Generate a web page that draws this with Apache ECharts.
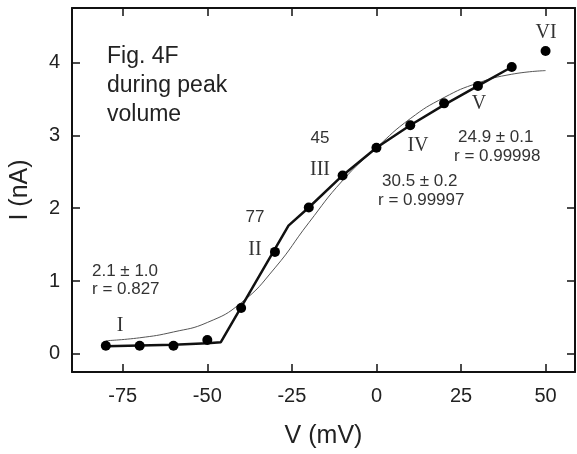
<!DOCTYPE html>
<html>
<head>
<meta charset="utf-8">
<script src="https://cdn.jsdelivr.net/npm/echarts@6/dist/echarts.min.js"></script>
<style>
  html, body { margin: 0; padding: 0; background: #fff; }
  #main { width: 577px; height: 454px; }
</style>
</head>
<body>
<div id="main"></div>
<script>
// 实测点 (V, I)
var dotV = [-80, -70, -60, -50, -40, -30, -20, -10, 0, 10, 20, 30, 40, 50];
var dotI = [0.11, 0.11, 0.11, 0.19, 0.63, 1.40, 2.01, 2.45, 2.83, 3.14, 3.44, 3.68, 3.94, 4.16];

// 分段拟合 (粗线)
var fitV = [-80, -70, -60, -50, -46, -26, -20, -10, 0, 10, 20, 30, 40];
var fitI = [0.105, 0.115, 0.125, 0.145, 0.16, 1.76, 2.01, 2.45, 2.83, 3.14, 3.42, 3.68, 3.94];

// Boltzmann 拟合 (细线)
var boltzV = [-80, -70, -60, -50, -40, -30, -20, -10, 0, 10, 20, 30, 40, 50];
var boltzI = [0.18, 0.22, 0.30, 0.43, 0.70, 1.18, 1.80, 2.38, 2.83, 3.23, 3.52, 3.72, 3.84, 3.89];

var xTicks = [-75, -50, -25, 0, 25, 50];
var yTicks = [0, 1, 2, 3, 4];

function pairs(xs, ys) {
    var out = [];
    for (var i = 0; i < xs.length; i++) {
        out.push([xs[i], ys[i]]);
    }
    return out;
}

var sans = 'Liberation Sans, Arial, sans-serif';
var serif = 'Liberation Serif, Times New Roman, serif';

// 图中文字标注
function label(text, x, y, size, family, align, color) {
    return {
        type: 'text',
        x: x,
        y: y,
        silent: true,
        style: {
            text: text,
            font: size + 'px ' + family,
            fill: color || '#333',
            align: align || 'left',
            verticalAlign: 'middle',
            textAlign: align || 'left',
            textVerticalAlign: 'middle'
        }
    };
}

var axisLine = { show: true, onZero: false, lineStyle: { color: '#111', width: 2 } };
var tickStyle = { color: '#111', width: 1.5 };

var myChart = echarts.init(document.getElementById('main'));
var option = {
    animation: false,
    backgroundColor: '#fff',
    grid: { left: 72, right: 2, top: 8, bottom: 81, containLabel: false },
    xAxis: [{
        type: 'value',
        min: -90,
        max: 58.7,
        position: 'bottom',
        name: 'V (mV)',
        nameLocation: 'middle',
        nameGap: 52,
        nameTextStyle: { fontSize: 25, fontFamily: sans, color: '#222' },
        axisLine: axisLine,
        axisTick: { show: true, inside: true, length: 8, customValues: xTicks, lineStyle: tickStyle },
        axisLabel: { show: true, customValues: xTicks, margin: 14, fontSize: 20, fontFamily: sans, color: '#222' },
        splitLine: { show: false }
    }, {
        type: 'value',
        min: -90,
        max: 58.7,
        position: 'top',
        axisLine: axisLine,
        axisTick: { show: true, inside: true, length: 8, customValues: xTicks, lineStyle: tickStyle },
        axisLabel: { show: false },
        splitLine: { show: false }
    }],
    yAxis: [{
        type: 'value',
        min: -0.25,
        max: 4.75,
        position: 'left',
        name: 'I (nA)',
        nameLocation: 'middle',
        nameGap: 39,
        nameTextStyle: { fontSize: 25, fontFamily: sans, color: '#222' },
        axisLine: axisLine,
        axisTick: { show: true, inside: true, length: 8, customValues: yTicks, lineStyle: tickStyle },
        axisLabel: { show: true, customValues: yTicks, margin: 12, fontSize: 20, fontFamily: sans, color: '#222' },
        splitLine: { show: false }
    }, {
        type: 'value',
        min: -0.25,
        max: 4.75,
        position: 'right',
        axisLine: axisLine,
        axisTick: { show: true, inside: true, length: 8, customValues: yTicks, lineStyle: tickStyle },
        axisLabel: { show: false },
        splitLine: { show: false }
    }],
    series: [{
        name: 'boltzmann',
        type: 'line',
        data: pairs(boltzV, boltzI),
        smooth: true,
        showSymbol: false,
        symbol: 'none',
        lineStyle: { color: '#555', width: 1 },
        z: 2
    }, {
        name: 'fit',
        type: 'line',
        data: pairs(fitV, fitI),
        showSymbol: false,
        symbol: 'none',
        lineStyle: { color: '#111', width: 2.5 },
        z: 3
    }, {
        name: 'data',
        type: 'scatter',
        data: pairs(dotV, dotI),
        symbol: 'circle',
        symbolSize: 10,
        itemStyle: { color: '#000', opacity: 1 },
        z: 4
    }],
    graphic: [
        label('Fig. 4F', 107, 57, 23, sans, 'left', '#222'),
        label('during peak', 107, 86, 23, sans, 'left', '#222'),
        label('volume', 107, 115, 23, sans, 'left', '#222'),
        label('2.1 \u00b1 1.0', 92, 271, 17, sans),
        label('r = 0.827', 92, 289, 17, sans),
        label('77', 255, 217, 17, sans, 'center'),
        label('45', 320, 138, 17, sans, 'center'),
        label('30.5 \u00b1 0.2', 382, 181, 17, sans),
        label('r = 0.99997', 378, 200, 17, sans),
        label('24.9 \u00b1 0.1', 458, 137, 17, sans),
        label('r = 0.99998', 454, 156, 17, sans),
        label('I', 120, 326, 20, serif, 'center'),
        label('II', 255, 250, 20, serif, 'center'),
        label('III', 320, 170, 20, serif, 'center'),
        label('IV', 418, 146, 20, serif, 'center'),
        label('V', 479, 104, 20, serif, 'center'),
        label('VI', 546, 33, 20, serif, 'center')
    ]
};
myChart.setOption(option);
</script>
</body>
</html>
